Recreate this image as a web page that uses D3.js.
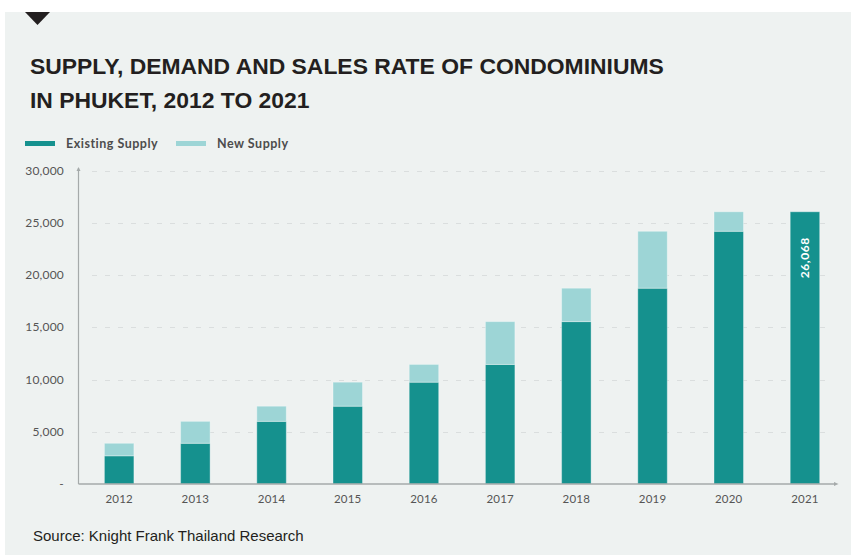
<!DOCTYPE html>
<html>
<head>
<meta charset="utf-8">
<script src="https://cdn.jsdelivr.net/npm/d3@7"></script>
<style>
  html, body { margin: 0; padding: 0; background: #ffffff; }
  svg { display: block; }
</style>
</head>
<body>
<svg id="chart" width="851" height="555"></svg>
<script>
// Phuket condominium supply, units
const years = ["2012", "2013", "2014", "2015", "2016", "2017", "2018", "2019", "2020", "2021"];
const existingSupply = [2700, 3900, 6000, 7450, 9750, 11450, 15550, 18750, 24200, 26068];
const newSupply = [1200, 2100, 1450, 2300, 1700, 4100, 3200, 5450, 1868, 0];
const yTicks = [0, 5000, 10000, 15000, 20000, 25000, 30000];
const seriesNames = ["Existing Supply", "New Supply"];
const seriesColors = ["#15918e", "#9dd5d6"];
const labelledYear = "2021";

const svg = d3.select("#chart");

// panel background and header marker
svg.append("rect").attr("x", 5).attr("y", 12).attr("width", 846).attr("height", 543).attr("fill", "#eef2f1");
svg.append("path").attr("d", "M25,12 L50,12 L37.5,25 Z").attr("fill", "#231f20");

// title
const title = svg.append("text")
  .attr("font-family", "'Liberation Sans', Arial, sans-serif")
  .attr("font-weight", "bold").attr("font-size", 22.9).attr("fill", "#231f20");
title.append("tspan").attr("x", 30).attr("y", 74).text("SUPPLY, DEMAND AND SALES RATE OF CONDOMINIUMS");
title.append("tspan").attr("x", 30).attr("y", 108).text("IN PHUKET, 2012 TO 2021");

// legend
const legendX = [25, 176];
seriesNames.forEach((name, i) => {
  svg.append("rect").attr("x", legendX[i]).attr("y", 141).attr("width", 30).attr("height", 5)
    .attr("fill", seriesColors[i]);
  svg.append("text").attr("x", legendX[i] + 41).attr("y", 147.5)
    .attr("font-family", "Lato, sans-serif").attr("font-weight", "bold").attr("font-size", 12.5)
    .attr("letter-spacing", 0.5)
    .attr("fill", "#4d4d4d").text(name);
});

// scales
const y = d3.scaleLinear().domain([0, 30000]).range([484, 170.7]);
const x = d3.scaleBand().domain(years).range([78.5, 845.6]).paddingInner(0.613).paddingOuter(0.34);

// dashed gridlines
svg.append("g").selectAll("line").data(yTicks.filter(d => d > 0)).join("line")
  .attr("x1", 92).attr("x2", 829)
  .attr("y1", d => Math.round(y(d)) + 0.5).attr("y2", d => Math.round(y(d)) + 0.5)
  .attr("stroke", "#dadede").attr("stroke-width", 1).attr("stroke-dasharray", "5,8");

// y tick labels
const fmt = d3.format(",");
svg.append("g").selectAll("text").data(yTicks).join("text")
  .attr("x", 64).attr("y", d => y(d) + 4)
  .attr("text-anchor", "end")
  .attr("font-family", "Lato, sans-serif").attr("font-size", 12).attr("fill", "#555555")
  .attr("letter-spacing", 0.2)
  .text(d => d === 0 ? "-" : fmt(d));

// stacked bars
const rows = years.map((yr, i) => ({ year: yr, existing: existingSupply[i], added: newSupply[i] }));
const stack = d3.stack().keys(["existing", "added"]);
const layers = stack(rows);

svg.append("g").selectAll("g").data(layers).join("g")
  .attr("fill", (d, i) => seriesColors[i])
  .selectAll("rect").data(d => d.filter(s => s[1] > s[0])).join("rect")
  .attr("x", d => x(d.data.year))
  .attr("width", x.bandwidth())
  .attr("y", d => y(d[1]))
  .attr("height", d => y(d[0]) - y(d[1]))
  .attr("stroke", "rgba(255,255,255,0.35)").attr("stroke-width", 1);

// value label inside the last bar
const lastIdx = years.indexOf(labelledYear);
const lastVal = existingSupply[lastIdx];
svg.append("text")
  .attr("transform", `translate(${x(labelledYear) + x.bandwidth() / 2 + 4},${y(lastVal) + 46}) rotate(-90)`)
  .attr("text-anchor", "middle")
  .attr("font-family", "Lato, sans-serif").attr("font-weight", "bold").attr("font-size", 12)
  .attr("fill", "#ffffff").attr("letter-spacing", 0.6)
  .text(fmt(lastVal));

// axes lines
svg.append("line").attr("x1", 78.5).attr("x2", 78.5).attr("y1", 484).attr("y2", 168)
  .attr("stroke", "#a5aaaa").attr("stroke-width", 1.2);
svg.append("path").attr("d", "M76.5,171 L78.5,167 L80.5,171 Z").attr("fill", "#a5aaaa");
svg.append("line").attr("x1", 78.5).attr("x2", 836).attr("y1", 484).attr("y2", 484)
  .attr("stroke", "#a5aaaa").attr("stroke-width", 1.5);
svg.append("path").attr("d", "M834,482 L838.5,484 L834,486 Z").attr("fill", "#a5aaaa");

// x labels
svg.append("g").selectAll("text").data(years).join("text")
  .attr("x", d => x(d) + x.bandwidth() / 2).attr("y", 503)
  .attr("text-anchor", "middle")
  .attr("font-family", "Lato, sans-serif").attr("font-size", 11.5).attr("fill", "#555555")
  .attr("letter-spacing", 0.2)
  .text(d => d);

// source note
svg.append("text").attr("x", 33).attr("y", 541)
  .attr("font-family", "'Liberation Sans', Arial, sans-serif").attr("font-size", 15).attr("fill", "#231f20")
  .text("Source: Knight Frank Thailand Research");
</script>
</body>
</html>
